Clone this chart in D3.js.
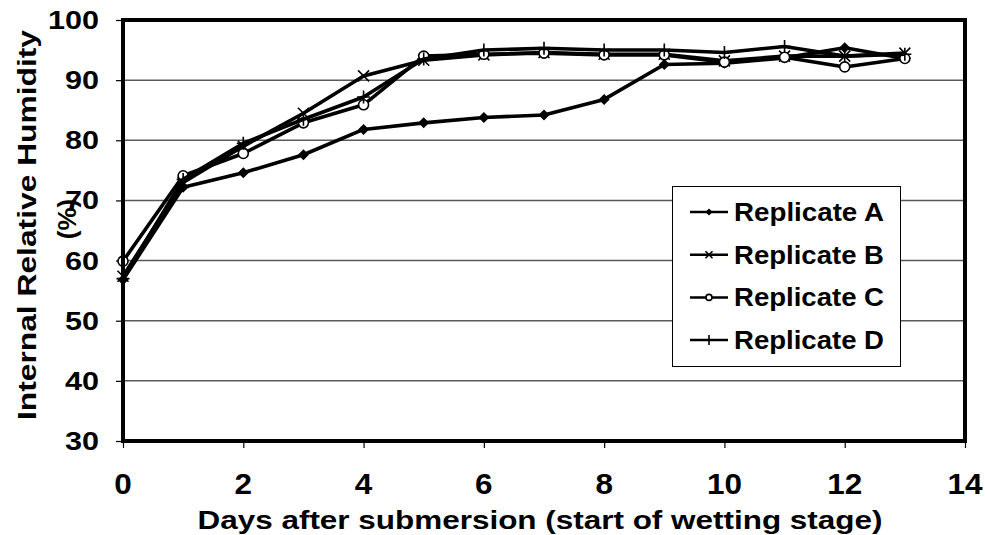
<!DOCTYPE html>
<html><head><meta charset="utf-8">
<script src="https://cdn.jsdelivr.net/npm/d3@7"></script>
<style>
html,body{margin:0;padding:0;background:#fff;}
text{font-family:"Liberation Sans",Arial,sans-serif;font-weight:bold;fill:#000;}
</style></head>
<body>
<svg id="chart" width="985" height="535"></svg>
<script>
const days = [0,1,2,3,4,5,6,7,8,9,10,11,12,13];
const seriesNames = ["Replicate A","Replicate B","Replicate C","Replicate D"];
const repA = [56.8,72.2,74.6,77.6,81.8,82.9,83.8,84.2,86.8,92.6,92.8,93.7,95.4,93.6];
const repB = [57.4,73.0,79.0,84.5,90.7,93.3,94.2,94.6,94.3,94.3,93.2,94.0,94.0,94.5];
const repC = [59.9,74.1,77.8,82.9,85.9,94.0,94.3,94.5,94.2,94.2,93.0,93.8,92.2,93.6];
const repD = [57.0,73.5,79.5,83.5,87.2,93.5,95.0,95.3,95.0,95.0,94.6,95.6,94.0,94.3];
const seriesValues = [repA,repB,repC,repD];
const markers = ["diamond","x","circle","plus"];
const xTicks = [0,2,4,6,8,10,12,14];
const yTicks = [30,40,50,60,70,80,90,100];
const xTitle = "Days after submersion (start of wetting stage)";
const yTitle1 = "Internal Relative Humidity";
const yTitle2 = "(%)";

const svg = d3.select("#chart");
const L=123, R=965, T=20, B=441;
const x = d3.scaleLinear().domain([0,14]).range([L,R]);
const y = d3.scaleLinear().domain([30,100]).range([B,T]);

// gridlines
svg.append("g").selectAll("line").data(yTicks.filter(v=>v>30&&v<100)).join("line")
  .attr("x1",L).attr("x2",R).attr("y1",d=>y(d)).attr("y2",d=>y(d))
  .attr("stroke","#5a5a5a").attr("stroke-width",1.5);

// axes ticks
const yAxis = d3.axisLeft(y).tickValues(yTicks).tickSize(7).tickFormat("");
const gy = svg.append("g").attr("transform",`translate(${L},0)`).call(yAxis);
gy.select(".domain").remove();
gy.selectAll("line").attr("stroke","#000").attr("stroke-width",1.2);
const xAxis = d3.axisBottom(x).tickValues(xTicks).tickSize(7).tickFormat("");
const gx = svg.append("g").attr("transform",`translate(0,${B})`).call(xAxis);
gx.select(".domain").remove();
gx.selectAll("line").attr("stroke","#000").attr("stroke-width",1.2);

// tick labels
svg.append("g").selectAll("text").data(yTicks).join("text")
  .attr("x",99).attr("y",d=>y(d)).attr("dy","0.36em")
  .attr("text-anchor","end").attr("font-size",25)
  .attr("textLength",d=>String(d).length*17).attr("lengthAdjust","spacingAndGlyphs")
  .text(d=>d);
svg.append("g").selectAll("text").data(xTicks).join("text")
  .attr("x",d=>x(d)).attr("y",494)
  .attr("text-anchor","middle").attr("font-size",29)
  .attr("textLength",d=>String(d).length*17.5).attr("lengthAdjust","spacingAndGlyphs")
  .text(d=>d);

// titles
svg.append("text").attr("x",540).attr("y",529).attr("text-anchor","middle")
  .attr("font-size",26).attr("textLength",685).attr("lengthAdjust","spacingAndGlyphs").text(xTitle);
svg.append("text").attr("transform","translate(36,225) rotate(-90)").attr("text-anchor","middle")
  .attr("font-size",26).attr("textLength",390).attr("lengthAdjust","spacingAndGlyphs").text(yTitle1);
svg.append("text").attr("transform","translate(76,219) rotate(-90)").attr("text-anchor","middle")
  .attr("font-size",26).text(yTitle2);

// marker drawing
function drawMarker(g, type, cx, cy, s){
  if(type==="diamond"){
    g.append("path").attr("d",`M${cx},${cy-s}L${cx+s},${cy}L${cx},${cy+s}L${cx-s},${cy}Z`).attr("fill","#000");
  } else if(type==="x"){
    g.append("path").attr("d",`M${cx-s},${cy-s}L${cx+s},${cy+s}M${cx-s},${cy+s}L${cx+s},${cy-s}`)
      .attr("stroke","#000").attr("stroke-width",1.6).attr("fill","none");
  } else if(type==="circle"){
    g.append("circle").attr("cx",cx).attr("cy",cy).attr("r",s).attr("fill","#fff").attr("stroke","#000").attr("stroke-width",1.6);
  } else {
    g.append("path").attr("d",`M${cx-s},${cy}L${cx+s},${cy}M${cx},${cy-s}L${cx},${cy+s}`)
      .attr("stroke","#000").attr("stroke-width",1.6).attr("fill","none");
  }
}

const line = d3.line().x((d,i)=>x(days[i])).y(d=>y(d));
seriesValues.forEach((vals,si)=>{
  const g = svg.append("g");
  g.append("path").datum(vals).attr("d",line).attr("fill","none").attr("stroke","#000").attr("stroke-width",3.6).attr("stroke-linejoin","round");
  const sz = {diamond:5.5,x:5.5,circle:5,plus:6.5}[markers[si]];
  vals.forEach((v,i)=>drawMarker(g, markers[si], x(days[i]), y(v), sz));
});

// frame
svg.append("rect").attr("x",L).attr("y",T).attr("width",R-L).attr("height",B-T)
  .attr("fill","none").attr("stroke","#000").attr("stroke-width",4);

// legend
const lg = svg.append("g");
lg.append("rect").attr("x",672.5).attr("y",186.5).attr("width",228).attr("height",180)
  .attr("fill","#fff").attr("stroke","#000").attr("stroke-width",1);
seriesNames.forEach((name,i)=>{
  const cy = 212 + i*42.7;
  lg.append("line").attr("x1",690).attr("x2",728).attr("y1",cy).attr("y2",cy).attr("stroke","#000").attr("stroke-width",2.5);
  const sz = {diamond:3.5,x:3.5,circle:3,plus:5}[markers[i]];
  drawMarker(lg, markers[i], 709, cy, sz);
  lg.append("text").attr("x",734).attr("y",cy).attr("dy","0.36em").attr("font-size",25)
    .attr("textLength",150).attr("lengthAdjust","spacingAndGlyphs").text(name);
});
</script>
</body></html>
